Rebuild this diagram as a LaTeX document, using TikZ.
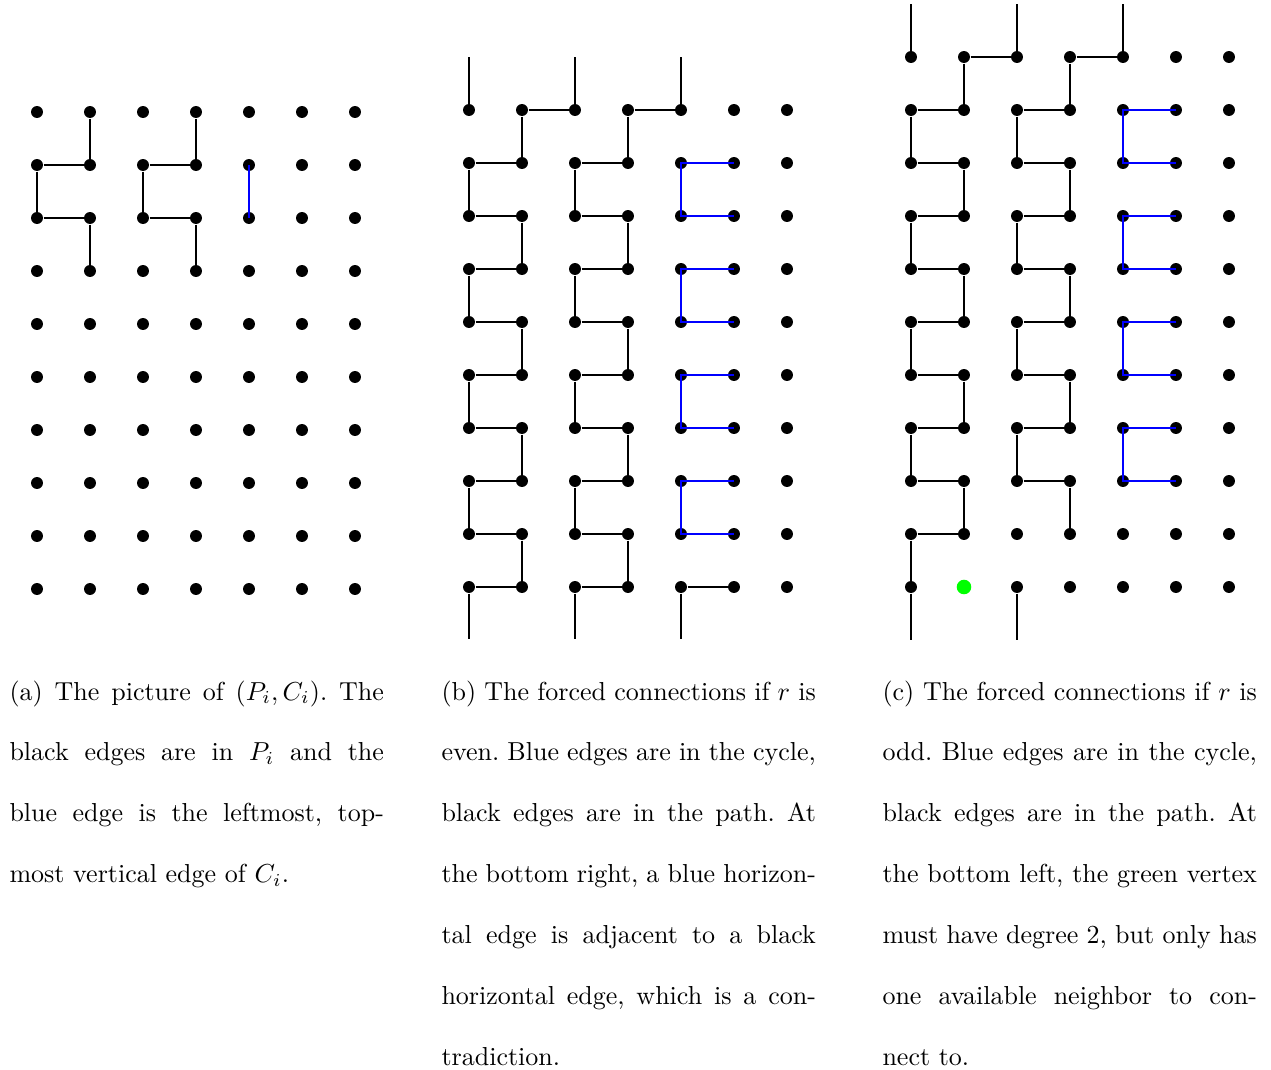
\documentclass[tikz,border=0pt]{standalone}

\begin{document}
\begin{tikzpicture}[
  x=0.38462pt, y=-0.38462pt,
  dot/.style={circle, fill=black, draw=none, inner sep=0pt, minimum size=4.6pt},
  gdot/.style={dot, fill=green, minimum size=5.6pt},
  pedge/.style={draw=black, line width=0.4pt},
  cedge/.style={draw=blue, line width=0.4pt},
  capt/.style={anchor=base west, inner sep=0pt, text width=144pt, align=justify,
               font=\fontsize{10}{23.45}\selectfont\frenchspacing},
]
\useasboundingbox (0,0) rectangle (1271,1070);
% --- (a) grid ---
\foreach \i in {0,...,6}
  \foreach \j in {0,...,9}
    \node[dot] (A-\i-\j) at ({37+53*\i},{112+53*\j}) {};
% --- (b) grid ---
\foreach \i in {0,...,6}
  \foreach \j in {0,...,9}
    \node[dot] (B-\i-\j) at ({469+53*\i},{110+53*\j}) {};
% --- (c) grid ---
\foreach \i in {0,...,6}
  \foreach \j in {0,...,9}
    \node[dot] (C-\i-\j) at ({911+53*\i},{57+53*\j}) {};
\foreach \i in {0,2,3,4,5,6}
  \node[dot] (C-\i-10) at ({911+53*\i},587) {};
\node[gdot] (C-1-10) at (964,587) {};
% --- stub ends ---
\foreach \i in {0,2,4} {
  \coordinate (B-top-\i) at ({469+53*\i},57);
  \coordinate (B-bot-\i) at ({469+53*\i},639);
  \coordinate (C-top-\i) at ({911+53*\i},4);
}
\foreach \i in {0,2}
  \coordinate (C-bot-\i) at ({911+53*\i},640);
% --- (a) edges ---
\foreach \p/\q in {0/1,2/3} {
  \draw[pedge] (A-\q-0) -- (A-\q-1);
  \draw[pedge] (A-\p-1) -- (A-\q-1);
  \draw[pedge] (A-\p-1) -- (A-\p-2);
  \draw[pedge] (A-\p-2) -- (A-\q-2);
  \draw[pedge] (A-\q-2) -- (A-\q-3);
}
\draw[cedge] (A-4-1.center) -- (A-4-2.center);
% --- (b) edges ---
\foreach \i in {0,2,4} {
  \draw[pedge] (B-\i-0) -- (B-top-\i);
  \draw[pedge] (B-\i-9) -- (B-bot-\i);
}
\draw[pedge] (B-1-0) -- (B-2-0);
\draw[pedge] (B-3-0) -- (B-4-0);
\foreach \p/\q in {0/1,2/3} {
  \foreach \j in {1,...,9}
    \draw[pedge] (B-\p-\j) -- (B-\q-\j);
  \foreach \j/\k in {0/1,2/3,4/5,6/7,8/9}
    \draw[pedge] (B-\q-\j) -- (B-\q-\k);
  \foreach \j/\k in {1/2,3/4,5/6,7/8}
    \draw[pedge] (B-\p-\j) -- (B-\p-\k);
}
\draw[pedge] (B-4-9) -- (B-5-9);
\foreach \j/\k in {1/2,3/4,5/6,7/8}
  \draw[cedge] (B-5-\j.center) -- (B-4-\j.center) -- (B-4-\k.center) -- (B-5-\k.center);
% --- (c) edges ---
\foreach \i in {0,2,4}
  \draw[pedge] (C-\i-0) -- (C-top-\i);
\foreach \i in {0,2}
  \draw[pedge] (C-\i-10) -- (C-bot-\i);
\draw[pedge] (C-1-0) -- (C-2-0);
\draw[pedge] (C-3-0) -- (C-4-0);
\foreach \j in {1,...,9}
  \draw[pedge] (C-0-\j) -- (C-1-\j);
\foreach \j/\k in {0/1,2/3,4/5,6/7,8/9}
  \draw[pedge] (C-1-\j) -- (C-1-\k);
\foreach \j/\k in {1/2,3/4,5/6,7/8,9/10}
  \draw[pedge] (C-0-\j) -- (C-0-\k);
\foreach \j in {1,...,8}
  \draw[pedge] (C-2-\j) -- (C-3-\j);
\foreach \j/\k in {0/1,2/3,4/5,6/7,8/9}
  \draw[pedge] (C-3-\j) -- (C-3-\k);
\foreach \j/\k in {1/2,3/4,5/6,7/8}
  \draw[pedge] (C-2-\j) -- (C-2-\k);
\foreach \j/\k in {1/2,3/4,5/6,7/8}
  \draw[cedge] (C-5-\j.center) -- (C-4-\j.center) -- (C-4-\k.center) -- (C-5-\k.center);
% --- captions ---
\node[capt] (capA) at (9,700) {(a) The picture of $(P_i,C_i)$. The\linebreak
  black edges are in $P_i$ and the\linebreak
  blue edge is the leftmost, top-\linebreak
  most vertical edge of $C_i$.};
\node[capt] (capB) at (441,700) {(b) The forced connections if $r$ is\linebreak
  even. Blue edges are in the cycle,\linebreak
  black edges are in the path. At\linebreak
  the bottom right, a blue horizon-\linebreak
  tal edge is adjacent to a black\linebreak
  horizontal edge, which is a con-\linebreak
  tradiction.};
\node[capt] (capC) at (882,700) {(c) The forced connections if $r$ is\linebreak
  odd. Blue edges are in the cycle,\linebreak
  black edges are in the path. At\linebreak
  the bottom left, the green vertex\linebreak
  must have degree 2, but only has\linebreak
  one available neighbor to con-\linebreak
  nect to.};
\end{tikzpicture}
\end{document}
